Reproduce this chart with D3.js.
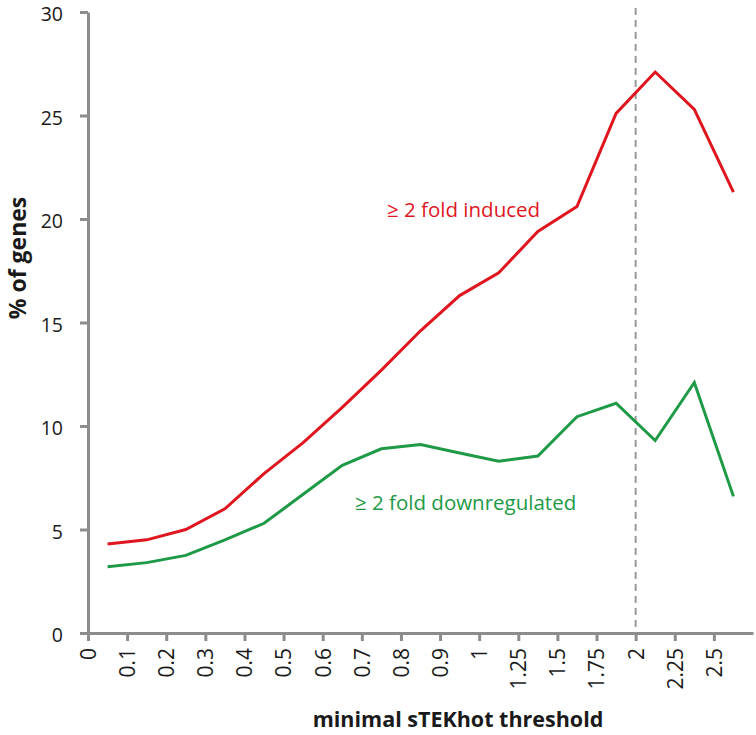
<!DOCTYPE html>
<html><head><meta charset="utf-8">
<script src="https://cdn.jsdelivr.net/npm/d3@7"></script>
<style>body{margin:0;background:#fff}svg{display:block;font-family:"Open Sans",sans-serif}</style>
</head><body><svg id="c" width="756" height="735"></svg>
<script>
const tickLabels = ["0","0.1","0.2","0.3","0.4","0.5","0.6","0.7","0.8","0.9","1","1.25","1.5","1.75","2","2.25","2.5"];
const induced = [4.3,4.5,5.0,6.0,7.7,9.2,10.9,12.7,14.6,16.3,17.4,19.4,20.6,25.1,27.1,25.3,21.3];
const downregulated = [3.2,3.4,3.75,4.5,5.3,6.7,8.1,8.9,9.1,8.7,8.3,8.55,10.45,11.1,9.3,12.1,6.6];
const yTicks = [0,5,10,15,20,25,30];
const thresholdIndex = 14;

const svg = d3.select("#c");
const x = d3.scaleLinear().domain([0, tickLabels.length]).range([88, 753]);
const y = d3.scaleLinear().domain([0, 30]).range([633, 12]);
const axisColor = "#8c8c8c";
const textColor = "#1a1a1a";
const redColor = "#df161f";
const greenColor = "#1e9a46";

// x axis
const xAxis = d3.axisBottom(x).tickValues(d3.range(tickLabels.length)).tickFormat(i => tickLabels[i]).tickSize(8).tickSizeOuter(0);
const gx = svg.append("g").attr("transform","translate(0,633)").call(xAxis);
gx.select(".domain").attr("stroke",axisColor).attr("stroke-width",3);
gx.selectAll(".tick line").attr("stroke",axisColor).attr("stroke-width",3);
gx.selectAll(".tick text").attr("transform","rotate(-90)").attr("text-anchor","end")
  .attr("x",-15).attr("y",0).attr("dy","0.35em").attr("font-size",21).attr("fill",textColor).attr("font-family","'Open Sans',sans-serif");

// y axis
const yAxis = d3.axisLeft(y).tickValues(yTicks).tickSize(8).tickSizeOuter(0);
const gy = svg.append("g").attr("transform","translate(88,0)").call(yAxis);
gy.select(".domain").attr("stroke",axisColor).attr("stroke-width",3);
gy.selectAll(".tick text").attr("x",-25).attr("dy","0.45em").attr("font-size",19.5).attr("fill",textColor).attr("font-family","'Open Sans',sans-serif");
gy.selectAll(".tick line").attr("stroke",axisColor).attr("stroke-width",3);

// threshold dashed line
svg.append("line").attr("x1",x(thresholdIndex)).attr("x2",x(thresholdIndex))
  .attr("y1",y(30)-4).attr("y2",y(0)).attr("stroke","#999").attr("stroke-width",2).attr("stroke-dasharray","7,5");

const line = d3.line().x((d,i)=>x(i+0.5)).y(d=>y(d));
svg.append("path").datum(induced).attr("d",line).attr("fill","none").attr("stroke",redColor).attr("stroke-width",3);
svg.append("path").datum(downregulated).attr("d",line).attr("fill","none").attr("stroke",greenColor).attr("stroke-width",3);

svg.append("text").attr("x",387).attr("y",217).attr("fill",redColor).attr("font-size",20.5).text("≥ 2 fold induced");
svg.append("text").attr("x",355).attr("y",510).attr("fill",greenColor).attr("font-size",20.5).text("≥ 2 fold downregulated");

svg.append("text").attr("x",458).attr("y",727).attr("text-anchor","middle").attr("font-weight","bold").attr("font-size",21.5).attr("fill",textColor).text("minimal sTEKhot threshold");
svg.append("text").attr("transform","translate(26,258) rotate(-90)").attr("text-anchor","middle").attr("font-weight","bold").attr("font-size",23).attr("fill",textColor).text("% of genes");
</script></body></html>
